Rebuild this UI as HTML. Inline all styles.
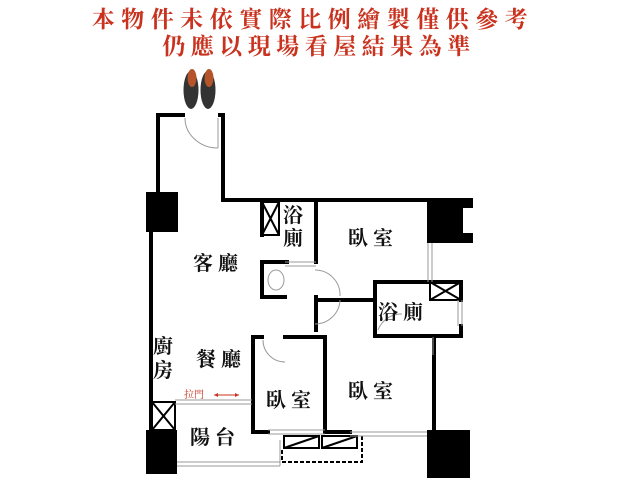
<!DOCTYPE html>
<html><head><meta charset="utf-8"><style>
body{margin:0;background:#fff;}
svg{display:block;}
.t{font-family:"Liberation Serif","Noto Serif CJK SC",serif;font-size:20px;fill:#111;font-weight:bold;}
</style></head><body>
<svg width="640" height="480" viewBox="0 0 640 480" xmlns="http://www.w3.org/2000/svg">
<g font-family="Liberation Serif, Noto Serif CJK SC, serif" font-size="23" fill="#c8321e" font-weight="bold" text-anchor="middle">
<text x="313" y="27" letter-spacing="6.5">本物件未依實際比例繪製僅供參考</text>
<text x="319" y="54" letter-spacing="5.5">仍應以現場看屋結果為準</text>
</g>
<!-- shoes -->
<ellipse cx="191" cy="90" rx="7.5" ry="19" fill="#333"/>
<ellipse cx="208" cy="90" rx="7.5" ry="19" fill="#333"/>
<ellipse cx="192" cy="78" rx="4.5" ry="9" fill="#b5532a"/>
<ellipse cx="209" cy="78" rx="4.5" ry="9" fill="#b5532a"/>
<g stroke="#000" stroke-width="4" fill="none" stroke-linecap="square">
<path d="M183 115 H158 V192"/>
<path d="M220 115 H223 V200 H428"/>
<path d="M151 232 V430"/>
<path d="M262 202 V235"/>
<path d="M262 262 H287"/>
<path d="M262 262 V297 H285"/>
<path d="M316 202 V262"/>
<path d="M316 297 V300 H375"/>
<path d="M316 300 V330"/>
<path d="M375 282 H461 V300"/>
<path d="M375 282 V336 H461 V326"/>
<path d="M434 337 V430"/>
<path d="M253 337 V432 H268"/>
<path d="M253 337 H262"/>
<path d="M285 337 H325 V432"/>
<path d="M325 432 H350"/>
</g>
<g stroke="#000" stroke-width="2" fill="none">
<rect x="262" y="202" width="17" height="33"/>
<path d="M262 202 L279 235 M279 202 L262 235"/>
<rect x="430" y="282" width="31" height="18"/>
<path d="M430 282 L461 300 M461 282 L430 300"/>
<rect x="152" y="402" width="23" height="28"/>
<path d="M152 402 L175 430 M175 402 L152 430"/>
<rect x="284" y="436" width="35" height="12"/>
<path d="M284 448 L319 436"/>
<rect x="322" y="436" width="35" height="12"/>
<path d="M322 448 L357 436"/>
<path d="M282 450 V462 H362 V436" stroke-dasharray="4 2"/>
</g>
<g stroke="#999" stroke-width="1" fill="none">
<path d="M218 118 V148 M185 118 A33 30 0 0 0 218 148" />
<path d="M315 270 A25 25 0 0 1 340 296 M315 324 A25 25 0 0 0 340 300"/>
<path d="M378 330 A25 25 0 0 1 402 314"/>
<path d="M263 340 A22 22 0 0 0 285 362"/>
<path d="M428 243 V282 M432 243 V282"/>
<path d="M433 337 V355"/>
<path d="M175 400 H252 M175 404 H252"/>
<path d="M177 462 H280 M177 466 H280 M280 440 V466"/>
<path d="M268 430 H325 M268 434 H325"/>
<path d="M350 432 H427 M350 436 H427"/>
<path d="M462 300 V326 M458 300 V326"/>
<path d="M285 262 H316 M285 266 H316"/>
<ellipse cx="276" cy="280" rx="8" ry="10"/>
</g>
<g fill="#000">
<rect x="146" y="192" width="32" height="40"/>
<rect x="427" y="198" width="36" height="45"/>
<rect x="455" y="198" width="18" height="10"/>
<rect x="455" y="233" width="18" height="10"/>
<rect x="146" y="430" width="31" height="44"/>
<rect x="427" y="430" width="43" height="48"/>
</g>
<text class="t" x="283" y="222">浴</text>
<text class="t" x="283" y="245">廁</text>
<text class="t" x="348" y="245">臥 室</text>
<text class="t" x="193" y="270">客 廳</text>
<text class="t" x="378" y="319">浴 廁</text>
<text class="t" x="153" y="353">廚</text>
<text class="t" x="153" y="377">房</text>
<text class="t" x="196" y="366">餐 廳</text>
<text class="t" x="266" y="407">臥 室</text>
<text class="t" x="348" y="398">臥 室</text>
<text class="t" x="190" y="444">陽 台</text>
<text x="184" y="398" font-family="Liberation Serif, Noto Serif CJK SC, serif" font-size="10" fill="#c8321e">拉門</text>
<path d="M214 395 H239" stroke="#c8321e" stroke-width="1"/>
<path d="M214 395 l4 -2 v4z M239 395 l-4 -2 v4z" fill="#c8321e"/>
</svg>
</body></html>
